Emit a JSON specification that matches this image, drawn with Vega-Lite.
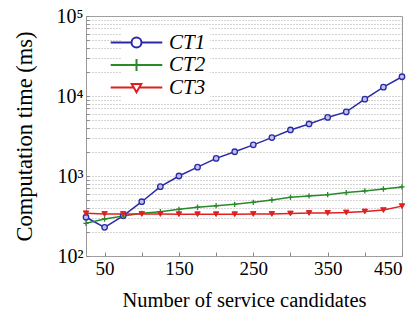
{
  "$schema": "https://vega.github.io/schema/vega-lite/v6.json",
  "width": 316,
  "height": 240,
  "autosize": {"type": "none"},
  "padding": {"left": 86, "top": 16, "right": 12, "bottom": 67},
  "background": "white",
  "config": {
    "view": {"stroke": "#999", "strokeWidth": 1},
    "font": "Liberation Serif",
    "axis": {
      "labelFont": "Liberation Serif",
      "titleFont": "Liberation Serif",
      "labelColor": "black",
      "titleColor": "black",
      "titleFontWeight": "normal",
      "domain": false,
      "tickColor": "#888",
      "gridColor": "#aaa",
      "gridDash": [1, 2],
      "gridWidth": 1
    }
  },
  "data": {
    "values": [
      {"n": 25, "s": "CT1", "t": 305}, {"n": 50, "s": "CT1", "t": 228}, {"n": 75, "s": "CT1", "t": 318},
      {"n": 100, "s": "CT1", "t": 477}, {"n": 125, "s": "CT1", "t": 735}, {"n": 150, "s": "CT1", "t": 1000},
      {"n": 175, "s": "CT1", "t": 1290}, {"n": 200, "s": "CT1", "t": 1660}, {"n": 225, "s": "CT1", "t": 2010},
      {"n": 250, "s": "CT1", "t": 2450}, {"n": 275, "s": "CT1", "t": 3020}, {"n": 300, "s": "CT1", "t": 3760},
      {"n": 325, "s": "CT1", "t": 4470}, {"n": 350, "s": "CT1", "t": 5400}, {"n": 375, "s": "CT1", "t": 6330},
      {"n": 400, "s": "CT1", "t": 9130}, {"n": 425, "s": "CT1", "t": 12900}, {"n": 450, "s": "CT1", "t": 17400},
      {"n": 25, "s": "CT2", "t": 256}, {"n": 50, "s": "CT2", "t": 290}, {"n": 75, "s": "CT2", "t": 316},
      {"n": 100, "s": "CT2", "t": 342}, {"n": 125, "s": "CT2", "t": 358}, {"n": 150, "s": "CT2", "t": 383},
      {"n": 175, "s": "CT2", "t": 407}, {"n": 200, "s": "CT2", "t": 425}, {"n": 225, "s": "CT2", "t": 442},
      {"n": 250, "s": "CT2", "t": 469}, {"n": 275, "s": "CT2", "t": 501}, {"n": 300, "s": "CT2", "t": 542},
      {"n": 325, "s": "CT2", "t": 563}, {"n": 350, "s": "CT2", "t": 584}, {"n": 375, "s": "CT2", "t": 620},
      {"n": 400, "s": "CT2", "t": 650}, {"n": 425, "s": "CT2", "t": 688}, {"n": 450, "s": "CT2", "t": 730},
      {"n": 25, "s": "CT3", "t": 342}, {"n": 50, "s": "CT3", "t": 335}, {"n": 75, "s": "CT3", "t": 335},
      {"n": 100, "s": "CT3", "t": 335}, {"n": 125, "s": "CT3", "t": 335}, {"n": 150, "s": "CT3", "t": 333},
      {"n": 175, "s": "CT3", "t": 333}, {"n": 200, "s": "CT3", "t": 333}, {"n": 225, "s": "CT3", "t": 333},
      {"n": 250, "s": "CT3", "t": 335}, {"n": 275, "s": "CT3", "t": 335}, {"n": 300, "s": "CT3", "t": 340},
      {"n": 325, "s": "CT3", "t": 345}, {"n": 350, "s": "CT3", "t": 345}, {"n": 375, "s": "CT3", "t": 350},
      {"n": 400, "s": "CT3", "t": 360}, {"n": 425, "s": "CT3", "t": 375}, {"n": 450, "s": "CT3", "t": 420}
    ]
  },
  "encoding": {
    "x": {
      "field": "n", "type": "quantitative",
      "scale": {"domain": [25, 450], "nice": false},
      "axis": {
        "title": "Number of service candidates",
        "titleFontSize": 20.5, "titlePadding": 12,
        "labelFontSize": 19,
        "values": [50, 100, 150, 200, 250, 300, 350, 400, 450],
        "labelExpr": "datum.value % 100 == 50 ? datum.label : ''",
        "grid": false, "tickSize": -4, "labelPadding": 7
      }
    },
    "y": {
      "field": "t", "type": "quantitative",
      "scale": {"type": "log", "domain": [100, 100000], "nice": false},
      "axis": {
        "title": "Computation time (ms)",
        "titleFontSize": 22.5, "titlePadding": 20,
        "labelFontSize": 20,
        "values": [100, 200, 300, 400, 500, 600, 700, 800, 900, 1000, 2000, 3000, 4000, 5000, 6000, 7000, 8000, 9000, 10000, 20000, 30000, 40000, 50000, 60000, 70000, 80000, 90000, 100000],
        "labelExpr": "datum.value == 100 ? '10²' : datum.value == 1000 ? '10³' : datum.value == 10000 ? '10⁴' : datum.value == 100000 ? '10⁵' : ''",
        "tickSize": -3, "labelPadding": 6
      }
    }
  },
  "layer": [
    {
      "mark": {"type": "line", "strokeWidth": 1.5},
      "encoding": {
        "color": {
          "field": "s", "type": "nominal",
          "scale": {"domain": ["CT1", "CT2", "CT3"], "range": ["#2a2aa6", "#2a8a2a", "#e02020"]},
          "legend": {
            "orient": "none", "legendX": 36, "legendY": 12,
            "title": null,
            "fillColor": "white",
            "padding": 4,
            "symbolSize": 144,
            "symbolStrokeWidth": 2,
            "labelFont": "Liberation Serif",
            "labelFontSize": 21,
            "labelFontStyle": "italic",
            "labelColor": "black",
            "labelOffset": 22,
            "rowPadding": 0.5,
            "encoding": {
              "symbols": {
                "shape": {"value": {"expr": "datum.value === 'CT1' ? 'M-4.3,0H-0.83A0.83,0.83 0 1 1 0.83,0A0.83,0.83 0 1 1 -0.83,0M0.83,0H4.3' : datum.value === 'CT2' ? 'M-4.3,0H4.3M0,-1V1' : 'M-4.3,0H-0.46M0.46,0H4.3M-0.8,-0.6H0.8L0,0.8Z'"}},
                "fill": {"value": "transparent"}
              }
            }
          }
        }
      }
    },
    {
      "transform": [{"filter": "datum.s === 'CT1'"}],
      "mark": {"type": "point", "shape": "circle", "size": 30, "strokeWidth": 1.3, "opacity": 1, "stroke": "#2a2aa6", "fill": "#c0c0f0", "filled": true}
    },
    {
      "transform": [{"filter": "datum.s === 'CT2'"}],
      "mark": {"type": "point", "shape": "M-1,0H1M0,-1V1", "size": 28, "strokeWidth": 1.3, "opacity": 1, "stroke": "#2a8a2a", "fill": "transparent"}
    },
    {
      "transform": [{"filter": "datum.s === 'CT3'"}],
      "mark": {"type": "point", "shape": "triangle-down", "size": 30, "strokeWidth": 1, "opacity": 1, "stroke": "#e02020", "fill": "#e02020", "filled": true}
    }
  ]
}
